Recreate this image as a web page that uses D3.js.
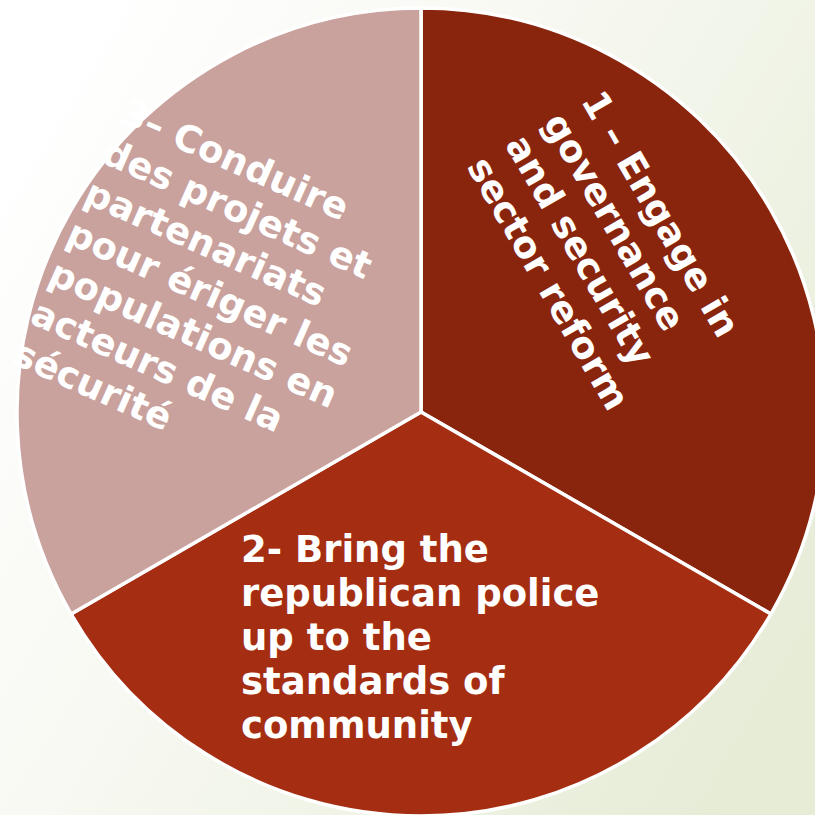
<!DOCTYPE html>
<html>
<head>
<meta charset="utf-8">
<script src="https://cdn.jsdelivr.net/npm/d3@7"></script>
<style>
  html, body { margin: 0; padding: 0; }
  svg { display: block; }
</style>
</head>
<body>
<svg id="chart" width="815" height="815"></svg>
<script>
// slice data, clockwise from 12 o'clock
var labels = [
	["1 \u2013 Engage in", "governance", "and security", "sector reform"],
	["2- Bring the", "republican police", "up to the", "standards of", "community"],
	["3\u2013 Conduire", "des projets et", "partenariats", "pour \u00e9riger les", "populations en", "acteurs de la", "s\u00e9curit\u00e9"]
];
var values = [1, 1, 1];
var colors = ["#8a250d", "#a52e12", "#c9a29e"];

// where each label block starts, in its own rotated frame around the centre
var labelRotate = [60, 0, 24];
var labelStart = [[-190, -294], [-180, 150], [-395, -142]];

var width = 815, height = 815;
var cx = 421, cy = 412, radius = 404;

var svg = d3.select("#chart");

var defs = svg.append("defs");
var grad = defs.append("linearGradient")
	.attr("id", "bg")
	.attr("x1", "0%").attr("y1", "20%")
	.attr("x2", "100%").attr("y2", "80%");
grad.append("stop").attr("offset", "0%").attr("stop-color", "#ffffff");
grad.append("stop").attr("offset", "45%").attr("stop-color", "#f6f8f0");
grad.append("stop").attr("offset", "100%").attr("stop-color", "#e6ecd6");

svg.append("rect")
	.attr("width", width)
	.attr("height", height)
	.attr("fill", "url(#bg)");

var pie = d3.pie().sort(null).value(function (d) { return d; });
var arc = d3.arc().innerRadius(0).outerRadius(radius);

var g = svg.append("g")
	.attr("transform", "translate(" + cx + "," + cy + ")");

g.selectAll("path.slice")
	.data(pie(values))
	.enter()
	.append("path")
	.attr("class", "slice")
	.attr("d", arc)
	.attr("fill", function (d, i) { return colors[i]; })
	.attr("stroke", "#ffffff")
	.attr("stroke-width", 3.5)
	.attr("stroke-linejoin", "round");

var lineHeight = 44;

labels.forEach(function (lines, i) {
	var txt = g.append("text")
		.attr("transform", "rotate(" + labelRotate[i] + ")")
		.attr("font-family", "'DejaVu Sans', Verdana, sans-serif")
		.attr("font-weight", "bold")
		.attr("font-size", 37)
		.attr("fill", "#ffffff");

	lines.forEach(function (line, j) {
		txt.append("tspan")
			.attr("x", labelStart[i][0])
			.attr("y", labelStart[i][1] + j * lineHeight)
			.text(line);
	});
});
</script>
</body>
</html>
